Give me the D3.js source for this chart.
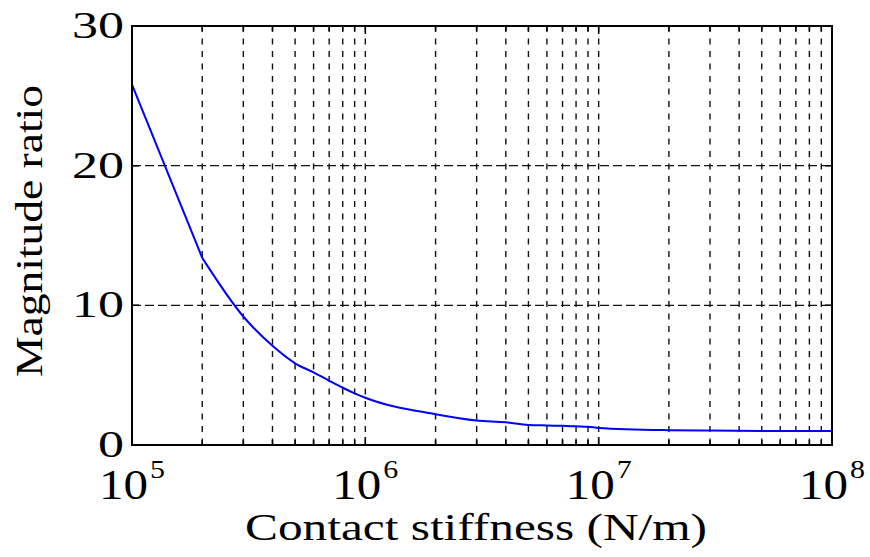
<!DOCTYPE html>
<html>
<head>
<meta charset="utf-8">
<script src="https://cdn.jsdelivr.net/npm/d3@7"></script>
<style>
  body { margin: 0; background: #fff; }
  text { font-family: "Liberation Serif", "Times New Roman", serif; fill: #000; }
</style>
</head>
<body>
<svg id="chart" width="870" height="557"></svg>
<script>
// stiffness samples (N/m) and magnitude ratio
const stiffness = [1e5, 2e5, 3e5, 4e5, 5e5, 6e5, 7e5, 8e5, 9e5,
  1e6, 2e6, 3e6, 4e6, 5e6, 6e6, 7e6, 8e6, 9e6,
  1e7, 2e7, 3e7, 5e7, 1e8];
const ratio = [25.8, 13.4, 9.2, 7.1, 5.85, 5.2, 4.6, 4.1, 3.7,
  3.38, 2.2, 1.75, 1.63, 1.44, 1.4, 1.37, 1.34, 1.31,
  1.22, 1.06, 1.03, 1.01, 1.0];
const yTicks = [0, 10, 20, 30];
const xDecades = [5, 6, 7, 8];

const svg = d3.select("#chart");
const margin = { left: 132, top: 26, right: 38, bottom: 112 };
const width = 870 - margin.left - margin.right;
const height = 557 - margin.top - margin.bottom;

const x = d3.scaleLog().domain([1e5, 1e8]).range([0, width]);
const y = d3.scaleLinear().domain([0, 30]).range([height, 0]);

const g = svg.append("g").attr("transform", `translate(${margin.left},${margin.top})`);

// minor + major positions for vertical grid
const logTicks = [];
for (let d = 5; d < 8; d++) {
  for (let m = 1; m <= 9; m++) logTicks.push(m * Math.pow(10, d));
}
logTicks.push(1e8);
const inner = logTicks.filter((v) => v > 1e5 && v < 1e8);

g.append("g")
  .selectAll("line")
  .data(inner)
  .join("line")
  .attr("x1", (d) => x(d)).attr("x2", (d) => x(d))
  .attr("y1", 0).attr("y2", height)
  .attr("stroke", "#111")
  .attr("stroke-width", 1.4)
  .attr("stroke-dasharray", "6,6.5");

g.append("g")
  .selectAll("line")
  .data(yTicks.filter((v) => v > 0 && v < 30))
  .join("line")
  .attr("x1", 0).attr("x2", width)
  .attr("y1", (d) => y(d)).attr("y2", (d) => y(d))
  .attr("stroke", "#111")
  .attr("stroke-width", 1.4)
  .attr("stroke-dasharray", "9,4");

// inward ticks
const tickLen = (v) => (Math.log10(v) % 1 === 0 ? 8 : 5);
g.append("g")
  .selectAll("path")
  .data(inner)
  .join("path")
  .attr("d", (d) => `M${x(d)},${height}v${-tickLen(d)}M${x(d)},0v${tickLen(d)}`)
  .attr("stroke", "#000")
  .attr("stroke-width", 1.5);

g.append("g")
  .selectAll("path")
  .data(yTicks.filter((v) => v > 0 && v < 30))
  .join("path")
  .attr("d", (d) => `M0,${y(d)}h7M${width},${y(d)}h-7`)
  .attr("stroke", "#000")
  .attr("stroke-width", 1.5);

// curve: straight first segment, smooth after the kink at 2e5
const pts = stiffness.map((s, i) => [s, ratio[i]]);
const straight = d3.line().x((d) => x(d[0])).y((d) => y(d[1]));
const smooth = d3.line().x((d) => x(d[0])).y((d) => y(d[1])).curve(d3.curveMonotoneX);

g.append("path")
  .datum(pts.slice(0, 2))
  .attr("d", straight)
  .attr("fill", "none")
  .attr("stroke", "#0000ff")
  .attr("stroke-width", 2);

g.append("path")
  .datum(pts.slice(1))
  .attr("d", smooth)
  .attr("fill", "none")
  .attr("stroke", "#0000ff")
  .attr("stroke-width", 2);

// frame
g.append("rect")
  .attr("width", width).attr("height", height)
  .attr("fill", "none")
  .attr("stroke", "#000")
  .attr("stroke-width", 2);

// y tick labels
g.append("g")
  .selectAll("text")
  .data(yTicks)
  .join("text")
  .attr("x", -8)
  .attr("y", (d) => y(d) + 12)
  .attr("text-anchor", "end")
  .attr("font-size", 38)
  .attr("textLength", (d) => (String(d).length === 1 ? 26 : 52))
  .attr("lengthAdjust", "spacingAndGlyphs")
  .text((d) => d);

// x tick labels: 10 with superscript exponent
const xl = g.append("g").selectAll("g").data(xDecades).join("g")
  .attr("transform", (d) => `translate(${x(Math.pow(10, d))},${height})`);
xl.append("text")
  .attr("x", -33).attr("y", 54)
  .attr("font-size", 42)
  .attr("textLength", 49)
  .attr("lengthAdjust", "spacingAndGlyphs")
  .text("10");
xl.append("text")
  .attr("x", 18).attr("y", 33)
  .attr("font-size", 26)
  .attr("textLength", 15)
  .attr("lengthAdjust", "spacingAndGlyphs")
  .text((d) => d);

// axis titles
svg.append("text")
  .attr("x", 476).attr("y", 540)
  .attr("text-anchor", "middle")
  .attr("font-size", 38)
  .attr("textLength", 462)
  .attr("lengthAdjust", "spacingAndGlyphs")
  .text("Contact stiffness (N/m)");

svg.append("text")
  .attr("transform", "translate(42,231) rotate(-90)")
  .attr("text-anchor", "middle")
  .attr("font-size", 38)
  .attr("textLength", 292)
  .attr("lengthAdjust", "spacingAndGlyphs")
  .text("Magnitude ratio");
</script>
</body>
</html>
